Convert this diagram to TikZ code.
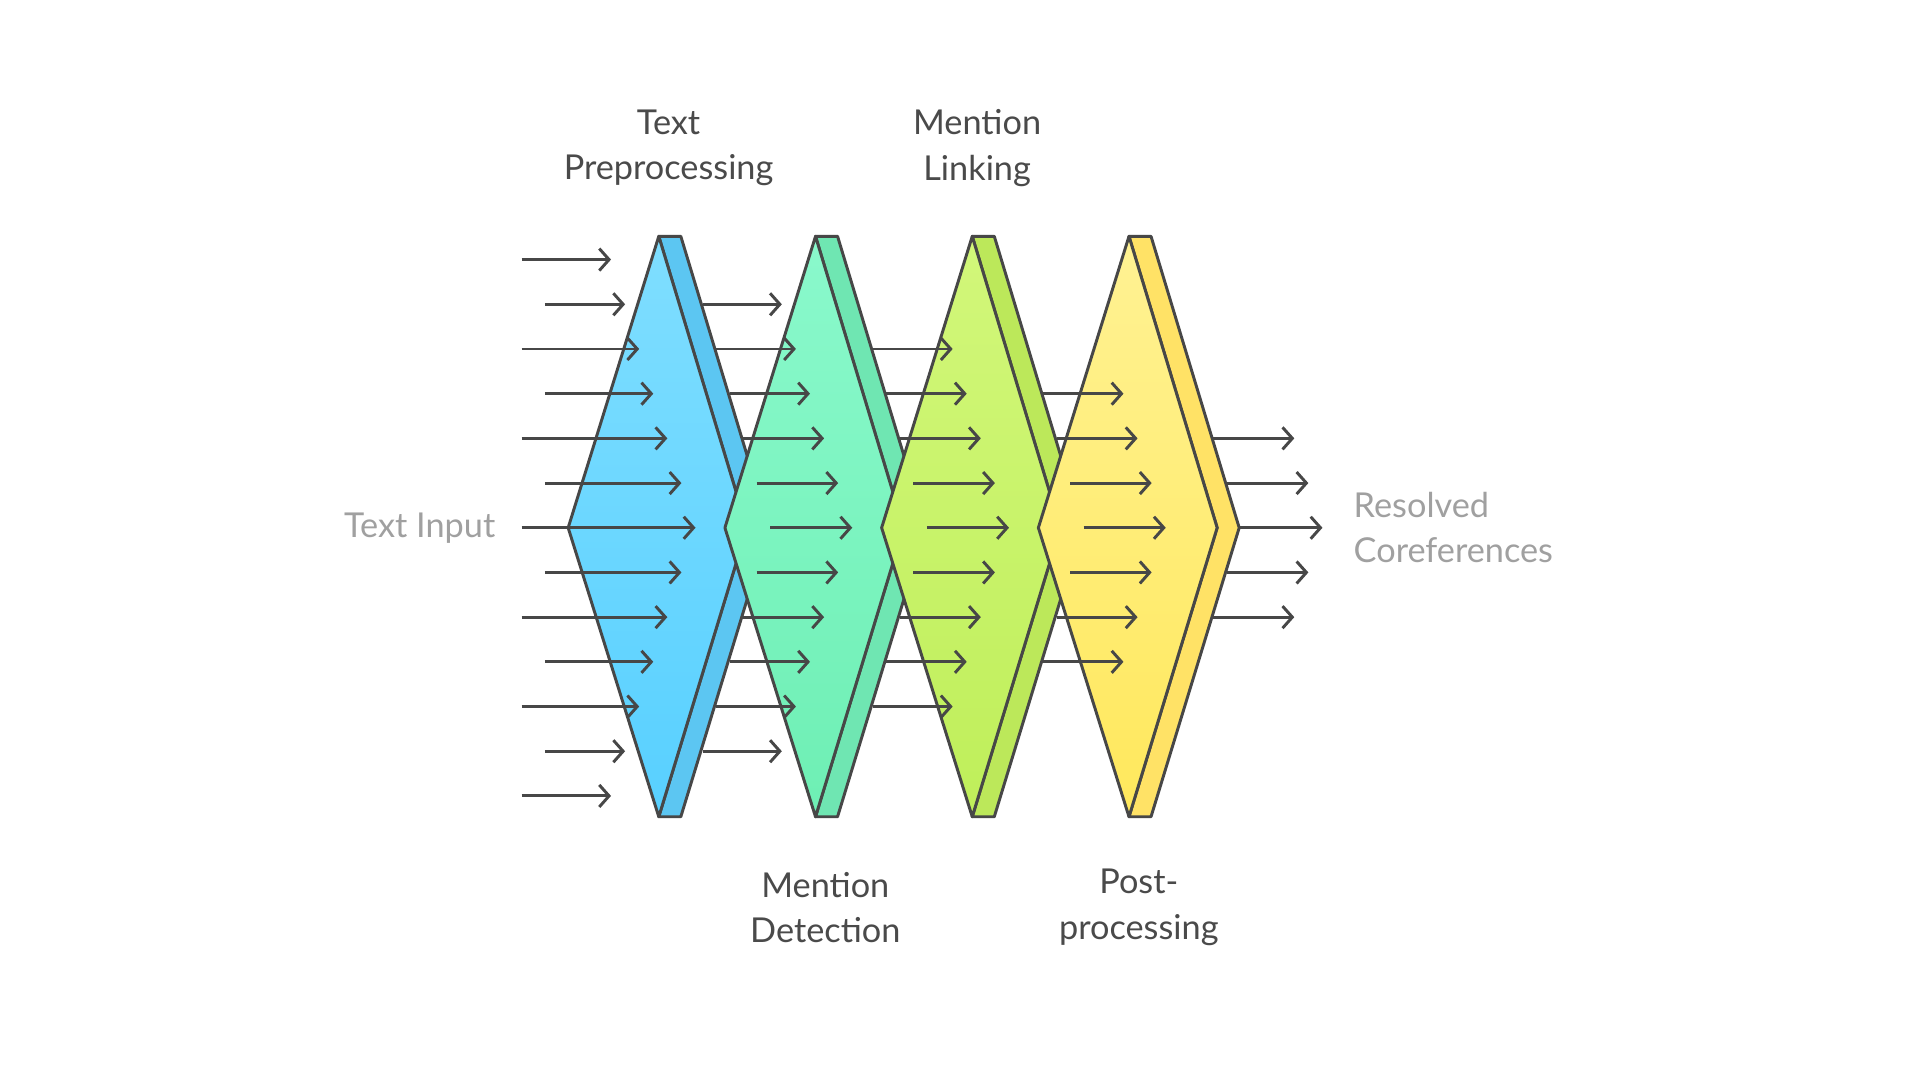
\documentclass[tikz,border=0pt]{standalone}
\usepackage{fontspec}
\setmainfont{Lato}
\usetikzlibrary{arrows.meta}
\definecolor{ink}{HTML}{474747}
\definecolor{lbl}{HTML}{4A4A4A}
\definecolor{gry}{HTML}{A0A0A0}
\tikzset{
 edge/.style={draw=ink,line width=2.4pt,line join=round},
 arr/.style={draw=ink,line width=2.4pt,-{Straight Barb[length=8pt,width=18pt,line width=2.4pt]}},
 lab/.style={font=\fontsize{28}{37}\selectfont,text=lbl,align=center},
}
\begin{document}
\begin{tikzpicture}[x=1pt,y=-1pt]
\useasboundingbox (0,0) rectangle (1568,882);
\fill[white] (0,0) rectangle (1568,882);
\foreach \s/\ta/\tb/\sd in {0/7FDEFF/58D0FF/5CC6F2,1/8AF9CC/6EEFB4/6FE6B2,2/D2F77A/BFEF5A/BCE85A,3/FFF293/FFE85C/FFE266}{
  \pgfmathsetmacro\xo{538+128*\s}
  \definecolor{ca}{HTML}{\ta}\definecolor{cb}{HTML}{\tb}\definecolor{cs}{HTML}{\sd}
  \filldraw[edge,fill=cs] (\xo,193)--(\xo+18,193)--(\xo+90,431)--(\xo+18,667)--(\xo,667)--(\xo+72,431)--cycle;
  \shade[top color=ca,bottom color=cb] (\xo,193)--(\xo+72,431)--(\xo,667)--(\xo-74,431)--cycle;
  \draw[edge] (\xo,193)--(\xo+72,431)--(\xo,667)--(\xo-74,431)--cycle;
}
\foreach \s in {0,...,4}{
  \pgfmathtruncatemacro\m{6-\s}
  \foreach \k in {-\m,...,\m}{
    \pgfmathsetmacro\ak{abs(\k)}
    \pgfmathsetmacro\yy{431+36.5*\k}
    \pgfmathsetmacro\xe{568+128*\s-11.5*\ak}
    \ifnum\s=0
      \pgfmathsetmacro\xs{isodd(\ak)?445:426}
    \else
      \pgfmathsetmacro\xs{538+128*(\s-1)+18+72*(1-36.5*\ak/238)+1}
    \fi
    \coordinate (a\s\k) at (\xs,\yy);
    \coordinate (b\s\k) at (\xe,\yy);
    \draw[arr] (a\s\k)--(b\s\k);
  }
}
\node[lab] (t1) at (546,121) {Text\\Preprocessing};
\node[lab] (t2) at (798,121) {Mention\\Linking};
\node[lab] (t3) at (674,741) {Mention\\Detection};
\node[lab] (t4) at (930,741) {Post-\\processing};
\node[lab,text=gry,anchor=east] (in) at (408,431) {Text Input};
\node[lab,text=gry,align=left,anchor=west] (out) at (1102,431) {Resolved\\Coreferences};
\end{tikzpicture}
\end{document}
